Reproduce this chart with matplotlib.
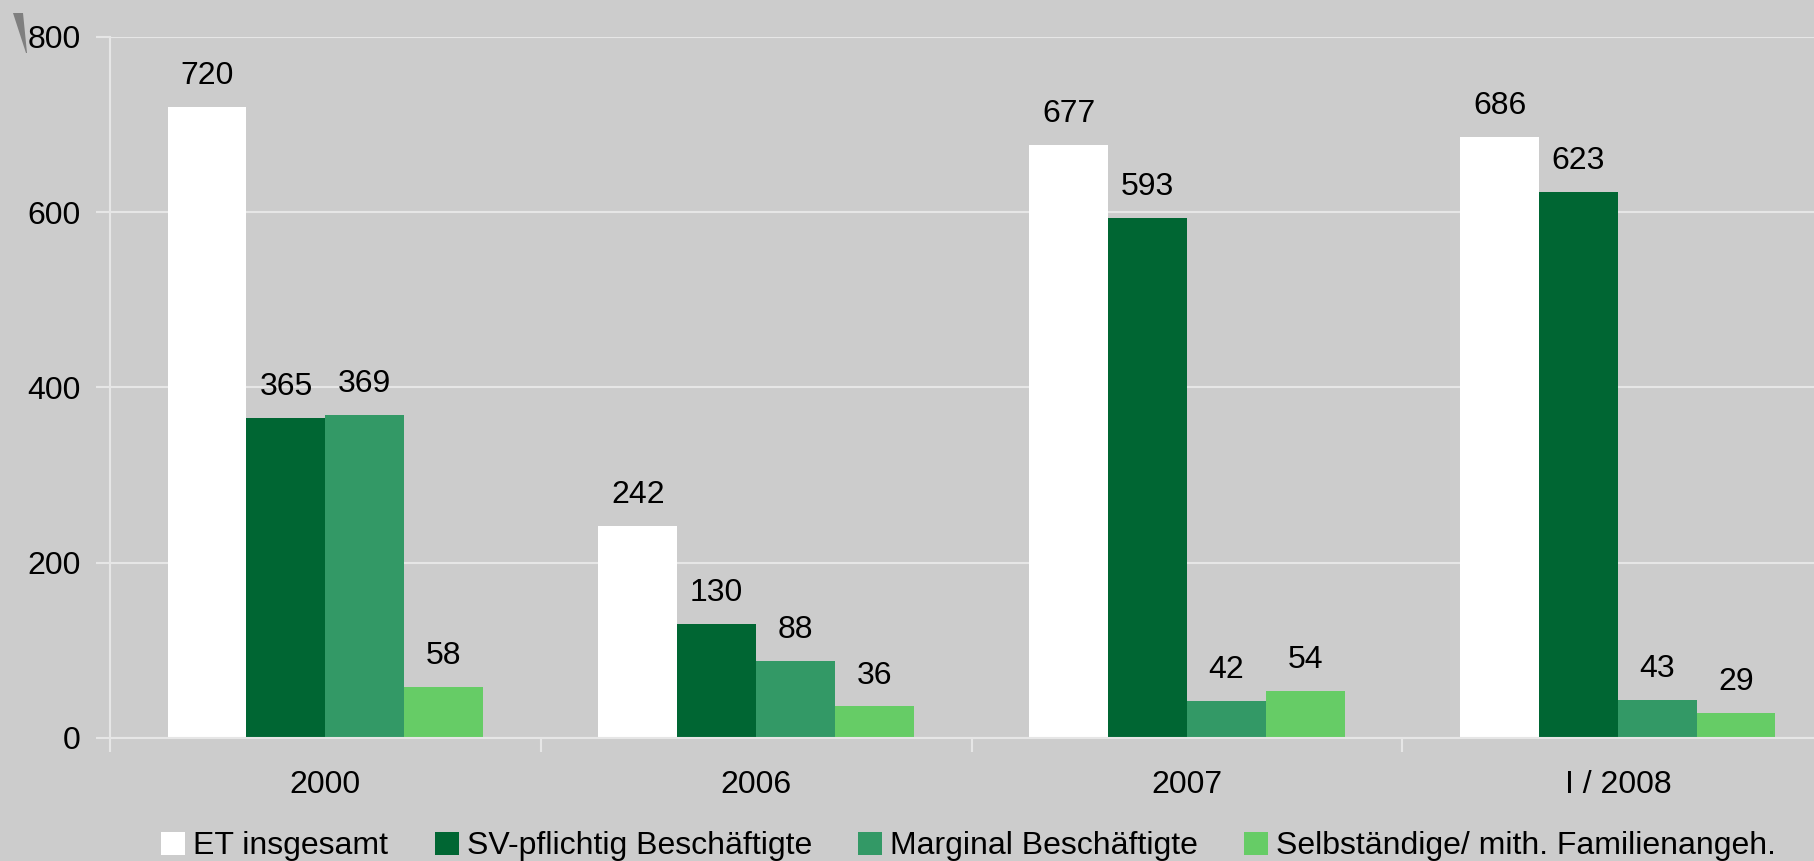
import matplotlib.pyplot as plt
from matplotlib.patches import Polygon
import numpy as np

plt.rcParams["font.family"] = ["Liberation Sans", "DejaVu Sans"]

categories = ["2000", "2006", "2007", "I / 2008"]
series_names = ["ET insgesamt", "SV-pflichtig Beschäftigte",
                "Marginal Beschäftigte", "Selbständige/ mith. Familienangeh."]
et_total = [720, 242, 677, 686]
sv_pflichtig = [365, 130, 593, 623]
marginal = [369, 88, 42, 43]
selbstaendige = [58, 36, 54, 29]
colors = ["#FFFFFF", "#006633", "#339966", "#66CC66"]

BG = "#CCCCCC"
GRID = "#E6E6E6"
FS = 23

fig = plt.figure(figsize=(18.14, 8.61), dpi=100, facecolor=BG)
ax = fig.add_axes([0.0606, 0.1429, 0.950, 0.8142], facecolor=BG)

x = np.arange(len(categories))
w = 0.183
series = [et_total, sv_pflichtig, marginal, selbstaendige]
handles = []
for i, (vals, col, name) in enumerate(zip(series, colors, series_names)):
    pos = x + (i - 1.5) * w
    b = ax.bar(pos, vals, w, color=col, label=name, zorder=3, linewidth=0)
    handles.append(b)
    for px, v in zip(pos, vals):
        ax.annotate(str(v), (px, v), xytext=(0, 16.5), textcoords="offset points",
                    ha="center", va="baseline", fontsize=FS, color="black")

ax.set_xlim(-0.5, len(categories) - 0.5)
ax.set_ylim(0, 800)
ax.set_yticks([0, 200, 400, 600, 800])
ax.yaxis.grid(True, color=GRID, linewidth=1.5, zorder=0)
ax.set_axisbelow(True)

# Kategorie-Grenzen als Ticks, Beschriftung in der Mitte
ax.set_xticks(np.arange(len(categories) + 1) - 0.5)
ax.set_xticklabels([])
ax.set_xticks(x, minor=True)
ax.set_xticklabels(categories, minor=True, fontsize=FS)
ax.tick_params(axis="x", which="major", length=10, width=1.5, color=GRID, direction="out")
ax.tick_params(axis="x", which="minor", length=0, pad=23)
ax.tick_params(axis="y", length=10, width=1.5, color=GRID, labelsize=FS, pad=11)

for s in ["top", "right"]:
    ax.spines[s].set_visible(False)
for s in ["left", "bottom"]:
    ax.spines[s].set_color(GRID)
    ax.spines[s].set_linewidth(1.5)
    ax.spines[s].set_zorder(4)

fig.legend(handles=handles, labels=series_names, loc="center", ncol=4,
           bbox_to_anchor=(0.534, 0.017), frameon=False, fontsize=FS,
           handlelength=0.75, handleheight=0.75, handletextpad=0.25,
           columnspacing=1.45)

# kleiner grauer Keil oben links (Rest der Achsenbeschriftung)
wedge = Polygon([(13, 848), (23, 848), (27, 808), (26, 808)], closed=True,
                transform=None, facecolor="#7F7F7F", edgecolor="none")
fig.patches.append(wedge)

fig.savefig("out.png", dpi=100, facecolor=BG)
